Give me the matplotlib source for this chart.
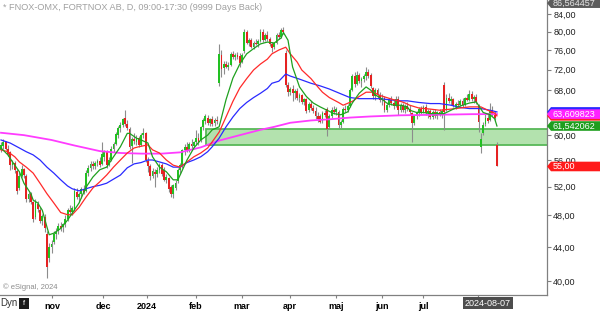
import numpy as np
import matplotlib.pyplot as plt
from matplotlib.patches import Polygon, Rectangle
from matplotlib.ticker import FixedLocator, FuncFormatter, NullLocator

plt.rcParams['font.family'] = ['Liberation Sans', 'DejaVu Sans']

# daily candles (FNOX), one entry per trading day
opens = [
    57.6, 58.2, 58.8, 57.8, 57.2, 55.3, 55.5, 54.3, 51.8, 53.6, 54.6, 53.6, 50.3, 50.9, 49.8, 47.8,
    49.6, 48.8, 47.3, 47.8, 45.6, 42.6, 44.0, 44.6, 45.6, 46.0, 46.6, 46.5, 46.9, 47.6, 48.7, 48.5,
    48.9, 51.3, 50.5, 50.9, 51.6, 51.4, 54.0, 54.8, 55.4, 55.0, 55.5, 55.8, 55.4, 56.5, 57.2, 55.3,
    56.0, 57.8, 58.6, 60.0, 61.2, 61.8, 62.9, 61.9, 61.0, 58.2, 59.3, 58.8, 59.5, 58.4, 60.0, 60.3,
    55.8, 55.0, 53.6, 54.2, 53.8, 54.4, 55.2, 54.5, 53.0, 53.2, 51.9, 51.0, 51.8, 52.8, 54.4, 55.0,
    57.5, 58.0, 57.6, 58.6, 58.2, 58.8, 59.5, 59.2, 61.3, 62.4, 63.0, 62.1, 62.8, 62.0, 62.6, 69.3,
    75.0, 72.3, 73.2, 72.6, 73.0, 75.1, 74.6, 75.0, 74.8, 73.6, 75.8, 79.8, 77.6, 78.2, 76.7, 77.6,
    77.3, 78.0, 80.0, 78.2, 79.3, 78.3, 77.2, 76.6, 77.6, 79.2, 78.8, 80.3, 75.4, 68.9, 67.6, 68.2,
    67.4, 67.9, 66.6, 67.0, 65.8, 66.3, 64.3, 65.5, 64.7, 64.2, 63.2, 63.3, 62.4, 63.8, 64.5, 61.4,
    63.3, 64.4, 64.0, 64.0, 61.8, 62.2, 64.5, 64.3, 65.0, 68.0, 70.7, 69.2, 71.0, 69.8, 70.2, 70.8,
    71.5, 70.9, 68.3, 66.8, 68.0, 67.0, 66.2, 66.6, 64.4, 65.3, 66.1, 65.6, 65.0, 66.4, 64.4, 65.2,
    64.3, 65.0, 64.6, 63.8, 62.0, 63.2, 63.9, 64.5, 64.0, 64.9, 63.8, 64.2, 63.1, 64.0, 63.3, 63.9,
    63.6, 69.0, 64.5, 66.6, 65.9, 66.4, 65.1, 65.5, 65.2, 66.0, 65.3, 66.5, 66.2, 67.3, 66.4, 66.7,
    65.0, 58.0, 60.4, 61.9, 63.0, 62.6, 64.4, 63.6, 58.3,
]
highs = [
    58.8, 59.3, 59.0, 58.4, 57.4, 56.0, 55.8, 54.6, 54.2, 55.2, 54.8, 53.9, 51.3, 51.2, 50.0, 50.3,
    50.0, 49.2, 48.2, 48.2, 46.0, 44.5, 44.8, 46.0, 46.4, 47.0, 47.2, 47.0, 48.0, 49.0, 49.4, 49.3,
    51.8, 51.8, 51.2, 52.0, 52.2, 54.5, 55.2, 55.8, 55.9, 55.8, 56.2, 56.4, 58.9, 57.6, 57.6, 56.4,
    58.2, 58.8, 60.5, 61.5, 62.3, 63.0, 64.4, 62.6, 61.3, 59.7, 60.3, 60.0, 59.9, 60.3, 61.2, 60.6,
    56.5, 55.4, 54.7, 54.6, 54.9, 55.6, 55.6, 54.9, 53.8, 53.4, 52.2, 52.4, 52.9, 54.8, 55.6, 57.8,
    58.5, 58.9, 58.9, 59.4, 59.0, 60.9, 60.4, 61.6, 62.9, 63.7, 63.5, 63.0, 63.3, 63.0, 63.2, 77.2,
    76.0, 73.8, 73.8, 73.5, 75.6, 75.8, 75.4, 75.6, 75.3, 75.4, 80.5, 80.4, 78.6, 78.5, 78.0, 78.3,
    78.4, 80.5, 80.6, 79.6, 80.2, 78.8, 77.8, 77.8, 79.6, 79.8, 80.8, 81.0, 76.0, 69.6, 68.6, 68.9,
    68.2, 68.3, 67.5, 67.3, 66.6, 66.6, 65.8, 66.0, 65.2, 64.8, 63.9, 63.6, 64.2, 64.4, 64.9, 63.6,
    64.8, 65.0, 64.9, 64.3, 62.6, 64.8, 65.2, 65.4, 68.4, 71.2, 71.5, 71.8, 71.4, 70.6, 71.2, 72.6,
    72.2, 71.4, 68.6, 68.4, 68.4, 67.6, 67.2, 66.9, 65.6, 66.5, 66.8, 66.3, 66.8, 66.9, 65.6, 65.6,
    65.4, 65.8, 65.2, 64.0, 63.5, 64.2, 64.9, 65.0, 65.2, 65.4, 64.6, 64.6, 64.4, 64.6, 64.2, 64.6,
    64.5, 69.5, 67.2, 67.4, 66.8, 66.6, 65.8, 66.1, 66.4, 66.6, 66.7, 67.3, 68.0, 67.8, 67.0, 67.2,
    65.4, 60.4, 62.2, 63.6, 63.8, 65.6, 65.0, 64.2, 58.9,
]
lows = [
    57.2, 57.8, 57.5, 56.6, 54.5, 54.6, 54.0, 51.0, 51.5, 53.4, 53.3, 49.9, 49.8, 49.6, 47.2, 47.6,
    48.5, 47.0, 46.8, 45.8, 40.3, 42.2, 43.3, 44.3, 45.0, 45.6, 46.0, 45.8, 46.5, 47.3, 48.0, 48.0,
    48.6, 50.2, 49.8, 50.4, 51.0, 51.2, 53.5, 54.3, 54.6, 54.6, 55.0, 54.9, 55.2, 55.8, 54.8, 55.0,
    55.8, 57.2, 58.4, 59.6, 60.6, 61.3, 61.6, 60.8, 57.8, 55.6, 58.6, 58.3, 58.0, 58.2, 59.5, 55.7,
    54.2, 53.0, 53.2, 51.9, 53.4, 54.0, 53.6, 52.8, 52.6, 51.3, 50.6, 50.4, 51.5, 52.6, 53.9, 54.8,
    56.8, 57.2, 57.3, 57.8, 57.7, 58.3, 58.4, 58.9, 60.8, 61.9, 61.8, 61.6, 61.5, 61.6, 61.9, 68.8,
    70.6, 71.2, 72.3, 71.9, 72.8, 74.2, 74.0, 74.2, 72.6, 73.3, 75.4, 77.2, 76.8, 76.4, 76.3, 77.0,
    76.6, 77.8, 77.8, 77.9, 78.0, 76.9, 75.5, 76.2, 77.3, 78.3, 78.5, 79.4, 68.6, 66.8, 67.0, 65.9,
    66.3, 66.2, 65.8, 65.5, 65.2, 63.8, 64.0, 64.3, 63.8, 62.8, 62.3, 62.0, 62.1, 63.1, 59.8, 61.0,
    63.0, 63.6, 63.4, 61.2, 61.2, 62.0, 63.9, 63.9, 64.8, 67.8, 68.6, 69.0, 69.4, 68.6, 69.5, 70.0,
    70.4, 68.4, 66.4, 66.2, 66.6, 65.8, 65.2, 64.0, 64.0, 64.8, 65.2, 64.6, 64.8, 63.5, 64.0, 64.0,
    63.8, 64.2, 63.5, 58.8, 61.8, 62.8, 63.2, 63.7, 63.8, 63.5, 62.9, 62.8, 62.8, 63.0, 62.8, 63.2,
    63.0, 60.9, 64.2, 65.6, 65.2, 64.8, 64.6, 64.9, 65.0, 64.9, 65.0, 65.9, 65.9, 65.9, 65.6, 65.4,
    60.5, 57.1, 60.0, 61.6, 62.0, 62.4, 63.2, 62.6, 55.0,
]
closes = [
    58.3, 58.9, 57.8, 57.0, 55.2, 55.6, 54.4, 51.4, 53.6, 54.6, 53.7, 50.2, 50.9, 49.9, 47.6, 49.8,
    48.9, 47.3, 47.9, 46.4, 41.6, 44.0, 44.4, 45.6, 45.9, 46.6, 46.4, 46.9, 47.6, 48.8, 48.5, 49.0,
    51.4, 50.6, 50.9, 51.7, 51.3, 54.0, 54.8, 55.4, 55.0, 55.5, 55.8, 55.3, 57.0, 57.3, 55.2, 56.0,
    57.8, 58.5, 60.2, 61.2, 61.8, 62.7, 61.9, 61.2, 58.1, 59.3, 59.0, 59.6, 58.3, 60.0, 60.4, 56.0,
    55.0, 53.6, 54.3, 53.8, 54.4, 55.2, 53.9, 53.0, 53.4, 51.6, 51.0, 52.2, 52.6, 54.5, 55.3, 57.5,
    58.0, 57.6, 58.6, 58.2, 58.8, 59.5, 58.8, 61.3, 62.5, 63.2, 62.1, 62.8, 61.9, 62.6, 62.4, 75.2,
    72.2, 73.2, 72.6, 73.0, 75.1, 74.6, 75.0, 74.5, 73.4, 75.0, 80.0, 77.6, 78.2, 76.7, 77.6, 77.3,
    78.0, 79.9, 78.2, 79.3, 78.3, 77.2, 76.4, 77.5, 79.2, 78.8, 80.3, 79.8, 69.0, 67.6, 68.2, 67.4,
    67.9, 66.6, 67.0, 65.8, 66.3, 64.2, 65.5, 64.7, 64.2, 63.2, 62.8, 62.3, 63.8, 63.4, 61.0, 63.3,
    64.4, 64.0, 64.6, 61.8, 62.2, 64.5, 64.3, 65.0, 68.0, 70.8, 69.2, 71.0, 69.8, 70.2, 70.8, 71.5,
    70.8, 68.7, 66.9, 68.0, 67.0, 66.2, 66.6, 64.3, 65.3, 66.1, 65.6, 65.0, 66.4, 64.4, 65.2, 64.3,
    65.0, 64.6, 63.9, 62.0, 63.2, 63.9, 64.5, 64.0, 64.9, 63.8, 64.2, 63.1, 64.0, 63.3, 63.9, 63.6,
    64.2, 64.0, 66.6, 65.9, 66.4, 65.1, 65.5, 65.2, 66.0, 65.3, 66.5, 66.2, 67.3, 66.4, 66.7, 65.8,
    62.2, 59.4, 61.7, 63.0, 62.4, 64.4, 63.6, 63.0, 55.0,
]

# moving averages, read at sampled bars
green_idx = [0, 3, 5, 8, 10, 13, 14, 16, 18, 20, 21, 23, 26, 29, 31, 34, 37, 40, 43, 46, 49, 52, 55, 56,
             59, 61, 64, 66, 69, 72, 75, 77, 78, 81, 84, 87, 90, 92, 95, 98, 101, 104, 107, 110, 113,
             116, 119, 122, 123, 125, 126, 127, 129, 130, 133, 136, 139, 142, 145, 148, 151, 153, 156,
             159, 161, 163, 165, 168, 171, 174, 177, 178, 181, 184, 187, 190, 193, 196, 199, 201, 204,
             207, 210, 213, 215, 216]
green_val = [57.9, 56.8, 55.7, 54.2, 52.5, 51.0, 50.1, 49.7, 48.7, 46.5, 45.5, 45.7, 46.3, 47.4, 48.3,
             49.7, 51.9, 53.4, 54.5, 54.9, 56.5, 58.1, 60.3, 60.3, 59.5, 59.2, 58.7, 56.5, 54.9, 54.2,
             53.0, 53.0, 53.7, 56.0, 57.9, 59.2, 60.0, 60.9, 61.4, 66.2, 70.3, 73.1, 75.2, 76.3, 77.3,
             77.7, 77.5, 78.6, 79.8, 78.1, 75.2, 72.5, 69.9, 68.6, 66.8, 65.6, 64.9, 64.3, 63.7, 63.5,
             64.0, 65.6, 67.4, 68.6, 68.0, 67.1, 66.6, 65.6, 65.2, 65.2, 64.9, 64.3, 63.9, 63.9, 63.7,
             63.7, 63.7, 64.3, 64.9, 65.2, 65.6, 65.8, 63.9, 63.5, 62.8, 61.542062]

red_idx = [0, 3, 6, 8, 11, 14, 17, 20, 23, 26, 29, 31, 34, 37, 40, 43, 46, 49, 52, 55, 58, 60, 64, 66,
           69, 72, 75, 78, 81, 84, 87, 90, 92, 95, 98, 101, 104, 107, 110, 113, 116, 118, 121, 124,
           126, 129, 131, 135, 138, 140, 143, 147, 149, 153, 156, 159, 162, 165, 168, 171, 174, 176,
           178, 182, 187, 191, 196, 200, 204, 209, 212, 215, 216]
red_val = [57.6, 57.3, 56.5, 55.7, 54.9, 54.0, 52.5, 51.0, 49.7, 48.4, 48.1, 48.1, 49.1, 50.5, 51.8,
           52.7, 53.7, 54.9, 56.0, 57.1, 57.9, 58.1, 58.4, 57.6, 57.1, 56.0, 55.2, 54.9, 55.7, 56.5,
           57.1, 57.9, 58.9, 60.5, 63.1, 65.9, 68.4, 70.2, 71.9, 73.1, 74.1, 75.2, 76.0, 76.6, 75.2,
           73.5, 71.9, 70.2, 68.6, 67.6, 66.6, 65.7, 65.2, 65.9, 66.8, 67.6, 67.6, 67.0, 66.6, 66.2,
           65.9, 65.6, 65.2, 64.7, 64.5, 64.3, 64.5, 64.7, 64.9, 64.9, 64.3, 63.8, 63.3]

blue_idx = [0, 4, 8, 11, 14, 17, 20, 23, 26, 29, 31, 34, 37, 40, 43, 46, 49, 52, 55, 58, 61, 64, 66,
            69, 72, 75, 78, 81, 84, 87, 90, 92, 95, 98, 101, 104, 107, 110, 113, 116, 118, 121, 124,
            126, 130, 135, 139, 143, 148, 152, 156, 161, 165, 169, 174, 177, 182, 187, 191, 196, 200,
            204, 209, 213, 216]
blue_val = [59.2, 58.7, 57.9, 57.3, 56.8, 56.0, 54.9, 54.0, 53.0, 52.1, 51.7, 51.4, 51.7, 52.0, 52.2,
            52.5, 53.1, 53.7, 54.8, 55.4, 55.6, 56.0, 56.0, 55.7, 55.4, 54.9, 54.9, 55.6, 56.0, 56.5,
            57.3, 58.1, 59.5, 61.4, 63.1, 64.6, 65.7, 66.6, 67.4, 68.3, 69.3, 69.7, 71.1, 70.7, 70.1,
            69.3, 68.8, 68.2, 67.3, 66.6, 66.4, 66.4, 66.4, 66.2, 66.0, 66.0, 65.7, 65.5, 65.5, 65.2,
            64.8, 64.6, 64.6, 64.3, 64.0]

magenta_idx = [0, 10, 22, 32, 43, 52, 61, 70, 78, 87, 95, 104, 113, 119, 126, 135, 143, 152, 161, 174,
               191, 205, 216]
magenta_val = [60.4, 60.0, 59.2, 58.3, 57.4, 57.1, 57.0, 57.0, 57.2, 58.0, 59.1, 60.0, 60.9, 61.4, 62.1,
               62.5, 62.7, 63.0, 63.2, 63.4, 63.5, 63.6, 63.609823]

# support zone
band_start = 89.3
band_lo = 58.4
band_hi = 61.05

month_pos = [22.2, 44.4, 63.6, 84.9, 105.0, 125.9, 146.0, 166.0, 183.8, 207.8]
month_labels = ['nov', 'dec', '2024', 'feb', 'mar', 'apr', 'maj', 'jun', 'jul', '']
# 64 sits under the price tags in the original, so it is left out
price_ticks = [40, 44, 48, 52, 56, 60, 68, 72, 76, 80, 84]

W, H = 600, 311
fig = plt.figure(figsize=(W / 100, H / 100), dpi=100)
ax = fig.add_axes([0, 16 / H, 547 / W, 295 / H])
ax.set_yscale('log')
x_right = 237.8
ax.set_xlim(-0.436, x_right)
ax.set_ylim(38.49, 87.33)

# band
ax.add_patch(Rectangle((band_start, band_lo), x_right + 5 - band_start, band_hi - band_lo,
                       facecolor='#b3e2ae', edgecolor='#58b858', lw=1.3, zorder=1))

# candles
o = np.array(opens)
h = np.array(highs)
l = np.array(lows)
c = np.array(closes)
xs = np.arange(len(c))
up = c >= o
ax.vlines(xs, l, h, color='#8c8c8c', lw=0.8, zorder=3)
ax.bar(xs[up], (c - o)[up], bottom=o[up], width=0.8, color='#22c022', lw=0, zorder=4)
ax.bar(xs[~up], (o - c)[~up], bottom=c[~up], width=0.8, color='#e52222', lw=0, zorder=4)

# moving averages
ax.plot(magenta_idx, magenta_val, color='#ff3cff', lw=1.3, zorder=5)
ax.plot(blue_idx, blue_val, color='#2a2aff', lw=0.9, zorder=6)
ax.plot(red_idx, red_val, color='#ff2a2a', lw=0.9, zorder=6)
ax.plot(green_idx, green_val, color='#1fa01f', lw=0.9, zorder=7)

# axes styling
for s in ['left', 'top']:
    ax.spines[s].set_visible(False)
for s in ['right', 'bottom']:
    ax.spines[s].set_color('#808080')
    ax.spines[s].set_linewidth(0.9)

ax.yaxis.tick_right()
ax.yaxis.set_major_locator(FixedLocator(price_ticks))
ax.yaxis.set_minor_locator(NullLocator())
ax.yaxis.set_major_formatter(FuncFormatter(lambda v, p: f'{v:.2f}'.replace('.', ',')))
ax.tick_params(axis='y', direction='out', length=3, width=0.8, color='#808080',
               labelsize=6.5, pad=1.5, labelcolor='#222222')

ax.set_xticks(month_pos)
ax.set_xticklabels(month_labels, fontweight='bold', fontsize=6.5)
ax.xaxis.set_minor_locator(NullLocator())
ax.tick_params(axis='x', direction='out', length=2, width=0.8, color='#808080', pad=3)


def price_tag(value, text, face, tcolor='white'):
    yd = ax.transData.transform((0, value))[1]
    x0, tip, hh = 547, 4, 4.8
    pts = [(x0, yd), (x0 + tip, yd + hh), (W, yd + hh), (W, yd - hh), (x0 + tip, yd - hh)]
    fig.add_artist(Polygon([(px / W, py / H) for px, py in pts], closed=True,
                           transform=fig.transFigure, facecolor=face, edgecolor='none', zorder=10))
    fig.text((x0 + tip + 1.5) / W, yd / H, text, color=tcolor, fontsize=6.5,
             ha='left', va='center', zorder=11)


price_tag(86.564457, '86,564457', '#5c5c5c', '#e6e6e6')
price_tag(blue_val[-1], '', '#2a2aff')
price_tag(red_val[-1], '', '#ff2222')
price_tag(magenta_val[-1], '63,609823', '#ff22ff')
price_tag(green_val[-1], '61,542062', '#1e9e1e')
price_tag(closes[-1], '55,00', '#ff1a1a')

# header / footer texts
fig.text(3 / W, 1 - 8 / H, '* FNOX-OMX, FORTNOX AB, D, 09:00-17:30 (9999 Days Back)',
         fontsize=6.6, color='#a0a0a0', ha='left', va='center')
fig.text(3 / W, 1 - 287 / H, '\u00a9 eSignal, 2024', fontsize=5.5, color='#8c8c8c',
         ha='left', va='center')
fig.text(0, 1 - 303 / H, 'Dyn', fontsize=7, color='#333333', ha='left', va='center')
fig.add_artist(Rectangle((19 / W, 1 - 309 / H), 10 / W, 11 / H, transform=fig.transFigure,
                         facecolor='#1a1a1a', edgecolor='none'))
fig.text(24 / W, 1 - 303.5 / H, 'f', fontsize=5.5, color='white', ha='center', va='center')
fig.text(488 / W, 1 - 303 / H, '2024-08-07', fontsize=6.5, color='white', ha='center', va='center',
         bbox=dict(boxstyle='square,pad=0.2', facecolor='#4d4d4d', edgecolor='none'))

fig.savefig('out.png', dpi=100)
